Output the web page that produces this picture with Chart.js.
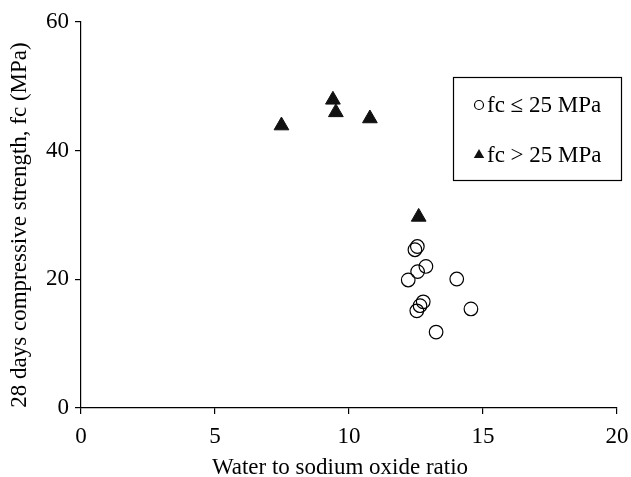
<!DOCTYPE html>
<html>
<head>
<meta charset="utf-8">
<script src="https://cdn.jsdelivr.net/npm/chart.js@4/dist/chart.umd.min.js"></script>
<style>
  html, body { margin: 0; padding: 0; background: #fff; }
  #chart { display: block; }
</style>
</head>
<body>
<canvas id="chart" width="631" height="477"></canvas>
<script>
// Data
const lowLabel = 'fc \u2264 25 MPa';
const lowX = [12.55, 12.46, 12.87, 12.56, 12.21, 14.02, 12.77, 12.65, 12.53, 14.55, 13.25];
const lowY = [25.1, 24.6, 22.0, 21.2, 19.9, 20.05, 16.5, 15.9, 15.1, 15.4, 11.8];

const highLabel = 'fc > 25 MPa';
const highX = [7.48, 9.40, 9.51, 10.78, 12.60];
const highY = [43.9, 47.9, 45.95, 45.0, 29.7];

const xTicks = [0, 5, 10, 15, 20];
const yTicks = [0, 20, 40, 60];

const xTitle = 'Water to sodium oxide ratio';
const yTitle = '28 days compressive strength, fc (MPa)';

const FONT = "'Liberation Serif', 'Times New Roman', serif";
const SIZE = 23;

function toPoints(xs, ys) {
    return xs.map((x, i) => ({x: x, y: ys[i]}));
}

// Axis titles, placed like the original (slightly off-centre)
const axisTitles = {
    id: 'axisTitles',
    afterDraw(chart) {
        const {ctx, chartArea} = chart;
        ctx.save();
        ctx.font = SIZE + 'px ' + FONT;
        ctx.fillStyle = '#000';
        ctx.textAlign = 'center';
        ctx.textBaseline = 'alphabetic';
        ctx.fillText(xTitle, (chartArea.left + chartArea.right) / 2 - 9, chart.height - 3);
        ctx.translate(26, (chartArea.top + chartArea.bottom) / 2 + 10);
        ctx.rotate(-Math.PI / 2);
        ctx.fillText(yTitle, 0, 0);
        ctx.restore();
    }
};

// Boxed legend inside the plot, upper right
const boxLegend = {
    id: 'boxLegend',
    afterDraw(chart) {
        const {ctx, chartArea} = chart;
        const left = chartArea.right - 164;
        const top = chartArea.top + 55;
        const w = 168, h = 103;
        ctx.save();
        ctx.strokeStyle = '#000';
        ctx.lineWidth = 1.2;
        ctx.strokeRect(left + 0.5, top + 0.5, w, h);
        ctx.font = SIZE + 'px ' + FONT;
        ctx.textBaseline = 'middle';
        chart.data.datasets.forEach((ds, i) => {
            const cy = top + 28 + i * 50;
            const cx = left + 26;
            ctx.beginPath();
            if (ds.pointStyle === 'triangle') {
                const r = 6;
                ctx.moveTo(cx, cy - r);
                ctx.lineTo(cx + 0.866 * r, cy + 0.5 * r);
                ctx.lineTo(cx - 0.866 * r, cy + 0.5 * r);
                ctx.closePath();
                ctx.fillStyle = '#111';
                ctx.fill();
            } else {
                ctx.arc(cx, cy, 4.5, 0, Math.PI * 2);
                ctx.lineWidth = 1.2;
                ctx.stroke();
            }
            ctx.fillStyle = '#000';
            ctx.fillText(ds.label, left + 34, cy + 1);
        });
        ctx.restore();
    }
};

const axisStyle = {
    grid: {display: true, drawOnChartArea: false, drawTicks: true, tickLength: 6, color: '#000', lineWidth: 1.2},
    border: {display: true, color: '#000', width: 1.2}
};

new Chart(document.getElementById('chart'), {
    type: 'scatter',
    data: {
        datasets: [
            {
                label: lowLabel,
                data: toPoints(lowX, lowY),
                pointStyle: 'circle',
                pointRadius: 6.8,
                pointBorderWidth: 1.2,
                borderColor: '#000',
                backgroundColor: 'rgba(0,0,0,0)'
            },
            {
                label: highLabel,
                data: toPoints(highX, highY),
                pointStyle: 'triangle',
                pointRadius: 8.5,
                pointBorderWidth: 1,
                borderColor: '#111',
                backgroundColor: '#111'
            }
        ]
    },
    options: {
        responsive: false,
        animation: false,
        devicePixelRatio: 1,
        layout: {padding: {top: 22, right: 14, left: 0, bottom: 0}},
        plugins: {
            legend: {display: false},
            tooltip: {enabled: false}
        },
        scales: {
            x: {
                type: 'linear',
                min: xTicks[0],
                max: xTicks[xTicks.length - 1],
                afterBuildTicks: (scale) => { scale.ticks = xTicks.map(v => ({value: v})); },
                afterFit: (scale) => {
                    scale.height = 69;
                    scale.paddingLeft = 0;
                    scale.paddingRight = 0;
                },
                ticks: {color: '#000', font: {family: FONT, size: SIZE}, padding: 9, maxRotation: 0},
                ...axisStyle
            },
            y: {
                type: 'linear',
                min: yTicks[0],
                max: yTicks[yTicks.length - 1],
                afterBuildTicks: (scale) => { scale.ticks = yTicks.map(v => ({value: v})); },
                afterFit: (scale) => {
                    scale.width = 81;
                    scale.paddingTop = 0;
                    scale.paddingBottom = 0;
                },
                ticks: {color: '#000', font: {family: FONT, size: SIZE}, padding: 6},
                ...axisStyle
            }
        }
    },
    plugins: [axisTitles, boxLegend]
});
</script>
</body>
</html>
